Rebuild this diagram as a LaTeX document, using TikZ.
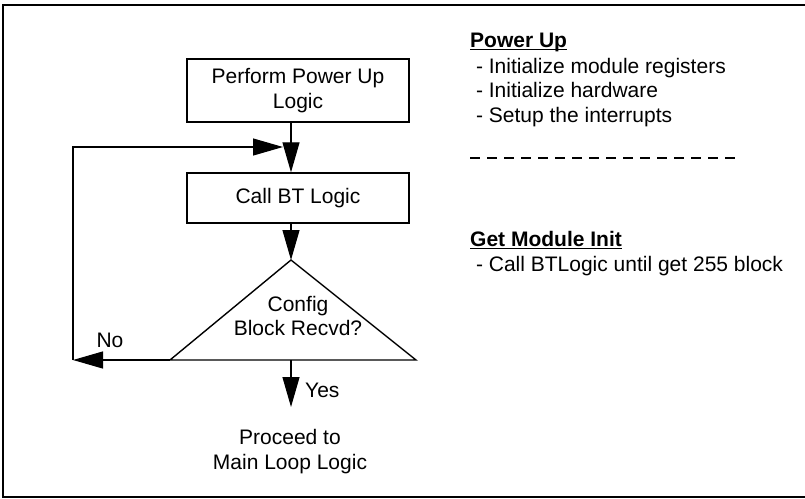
\documentclass[tikz,border=0pt]{standalone}
\usepackage{fontspec}
\setmainfont{Liberation Sans}
\usetikzlibrary{arrows.meta,calc}
\begin{document}
\begin{tikzpicture}[x=1pt,y=-1pt,
  every node/.style={font=\fontsize{21}{24.5}\selectfont, inner sep=0pt},
  procbox/.style={draw, line width=1.4pt, align=center, minimum width=222pt},
  flow/.style={line width=1.2pt, -{Triangle[length=30pt,width=17pt]}},
  plain/.style={line width=1.2pt},
  outline/.style={line width=1.4pt, line join=miter},
  notehead/.style={anchor=base west, font=\fontsize{21}{24.5}\selectfont\bfseries},
  noteline/.style={anchor=base west},
  ruled/.style={line width=1.3pt},
  sep/.style={line width=1.4pt, dash pattern=on 10pt off 7pt}]

\useasboundingbox (0,0) rectangle (805,498);

% outer frame
\draw[line width=2.6pt] (3,5) rectangle (808,497);

% flow chart
\coordinate (spine) at (291,0);
\node[procbox, minimum height=63pt] (pwr) at (298,90.5) {Perform Power Up\\Logic};
\node[procbox, minimum height=50pt] (bt) at (298,198) {Call BT Logic};

\coordinate (tapex) at (291,260);
\coordinate (tleft) at (170,360);
\coordinate (tright) at (416,360);
\draw[outline] (tapex) -- (tright) -- (tleft) -- cycle;
\node[align=center] (cfg) at (298,316) {Config\\Block Recvd?};

\coordinate (nocorner) at (73,360);
\coordinate (loopend) at (283,147);
\coordinate (yesend) at (291,407);

\draw[flow] (pwr.south -| spine) -- (bt.north -| spine);
\draw[flow] (bt.south -| spine) -- (tapex);
\draw[flow] (tleft) -- (nocorner);
\draw[flow] (nocorner) |- (loopend);
\draw[flow] (spine |- tleft) -- (yesend);

\node (no) at (110,340) {No};
\node[anchor=west] (yes) at (305,390) {Yes};
\node[align=center] (next) at (290,451.5) {Proceed to\\Main Loop Logic};

% notes on the right
\node[notehead] (pu) at (470,47) {Power Up};
\draw[ruled] ([yshift=-2.5pt]pu.base west) -- ([yshift=-2.5pt]pu.base east);
\node[noteline] (pu1) at (470,73) {\ - Initialize module registers};
\node[noteline] (pu2) at (470,97) {\ - Initialize hardware};
\node[noteline] (pu3) at (470,122) {\ - Setup the interrupts};

\coordinate (sepl) at (470,158);
\coordinate (sepr) at (737,158);
\draw[sep] (sepl) -- (sepr);

\node[notehead] (gm) at (470,246) {Get Module Init};
\draw[ruled] ([yshift=-2.5pt]gm.base west) -- ([yshift=-2.5pt]gm.base east);
\node[noteline] (gm1) at (470,271) {\ - Call BTLogic until get 255 block};

\end{tikzpicture}
\end{document}
